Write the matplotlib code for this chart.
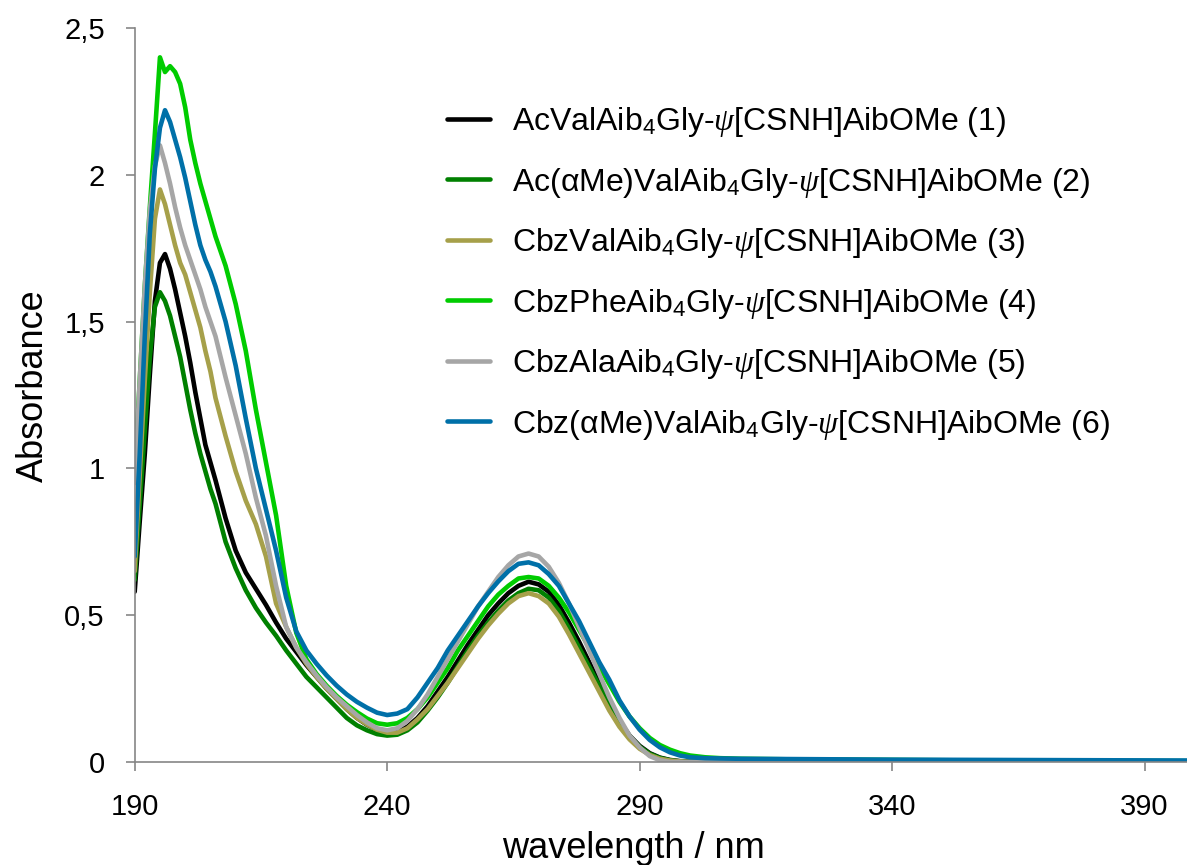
import numpy as np
import matplotlib
matplotlib.use('Agg')
import matplotlib.pyplot as plt

plt.rcParams['font.family'] = ['Liberation Sans', 'DejaVu Sans']
plt.rcParams['mathtext.fontset'] = 'custom'
plt.rcParams['mathtext.rm'] = 'Liberation Sans'
plt.rcParams['mathtext.it'] = 'Liberation Serif:italic'

# wavelength grid (nm) the curves were read at
wavelength = [190, 191, 192, 193, 194, 195, 196, 197, 198, 199, 200, 201, 202, 203, 204, 205, 206,
              208, 210, 212, 214, 216, 218, 220, 222,
              224, 226, 228, 230, 232, 234, 236, 238,
              240, 242, 244, 246, 248, 250, 252, 254, 256, 258, 260, 262, 264, 266, 268,
              270, 272, 274, 276, 278, 280, 282, 284, 286, 288, 290, 292, 294, 296, 298, 300,
              303, 306, 310, 320, 340, 360, 380, 400]

abs_1 = [0.58, 0.82, 1.05, 1.32, 1.57, 1.70, 1.73, 1.68, 1.61, 1.53, 1.45, 1.36, 1.26, 1.17, 1.08, 1.02, 0.96,
         0.83, 0.72, 0.645, 0.59, 0.535, 0.475, 0.42, 0.375,
         0.33, 0.29, 0.25, 0.215, 0.18, 0.15, 0.127, 0.11,
         0.10, 0.103, 0.12, 0.15, 0.19, 0.24, 0.29, 0.345, 0.40, 0.45, 0.50, 0.54, 0.575, 0.60, 0.614,
         0.605, 0.58, 0.535, 0.475, 0.41, 0.34, 0.27, 0.20, 0.14, 0.09, 0.055, 0.03, 0.015, 0.007, 0.003, 0.001,
         0.001, 0.001, 0.001, 0.001, 0.0, 0.0, 0.0, 0.0]

abs_2 = [0.62, 0.88, 1.13, 1.38, 1.55, 1.60, 1.57, 1.52, 1.45, 1.38, 1.29, 1.20, 1.12, 1.05, 0.99, 0.93, 0.88,
         0.75, 0.66, 0.585, 0.525, 0.475, 0.43, 0.38, 0.335,
         0.29, 0.255, 0.22, 0.185, 0.15, 0.125, 0.108, 0.095,
         0.09, 0.093, 0.108, 0.135, 0.175, 0.22, 0.27, 0.325, 0.38, 0.43, 0.475, 0.515, 0.55, 0.575, 0.59,
         0.585, 0.56, 0.515, 0.455, 0.39, 0.325, 0.26, 0.195, 0.135, 0.088, 0.052, 0.028, 0.014, 0.006, 0.002, 0.0,
         0.0, 0.0, 0.0, 0.0, 0.0, 0.0, 0.0, 0.0]

abs_3 = [0.65, 0.98, 1.30, 1.60, 1.85, 1.95, 1.90, 1.83, 1.76, 1.70, 1.66, 1.60, 1.54, 1.48, 1.40, 1.33, 1.24,
         1.11, 0.99, 0.89, 0.81, 0.70, 0.54, 0.46, 0.39,
         0.335, 0.29, 0.25, 0.215, 0.18, 0.15, 0.128, 0.11,
         0.10, 0.10, 0.115, 0.145, 0.18, 0.225, 0.27, 0.32, 0.37, 0.42, 0.465, 0.505, 0.54, 0.565, 0.575,
         0.565, 0.54, 0.495, 0.435, 0.37, 0.305, 0.24, 0.175, 0.12, 0.077, 0.045, 0.024, 0.011, 0.005, 0.002, 0.0,
         0.0, 0.0, 0.0, 0.0, 0.0, 0.0, 0.0, 0.0]

abs_4 = [0.98, 1.30, 1.62, 1.89, 2.14, 2.40, 2.35, 2.37, 2.35, 2.31, 2.23, 2.12, 2.04, 1.97, 1.91, 1.85, 1.79,
         1.69, 1.56, 1.40, 1.20, 1.02, 0.84, 0.60, 0.44,
         0.35, 0.30, 0.26, 0.225, 0.195, 0.17, 0.148, 0.132,
         0.127, 0.132, 0.15, 0.18, 0.22, 0.27, 0.32, 0.38, 0.43, 0.48, 0.53, 0.57, 0.60, 0.625, 0.63,
         0.625, 0.60, 0.56, 0.51, 0.45, 0.39, 0.325, 0.265, 0.205, 0.155, 0.115, 0.082, 0.058, 0.042, 0.03, 0.022,
         0.016, 0.013, 0.011, 0.009, 0.007, 0.005, 0.004, 0.003]

abs_5 = [0.95, 1.30, 1.62, 1.88, 2.03, 2.10, 2.04, 1.97, 1.89, 1.82, 1.76, 1.71, 1.66, 1.61, 1.55, 1.50, 1.45,
         1.31, 1.18, 1.05, 0.90, 0.77, 0.60, 0.46, 0.39,
         0.34, 0.295, 0.255, 0.22, 0.19, 0.16, 0.135, 0.115,
         0.108, 0.115, 0.14, 0.18, 0.23, 0.29, 0.35, 0.41, 0.47, 0.53, 0.58, 0.63, 0.67, 0.70, 0.71,
         0.70, 0.665, 0.61, 0.54, 0.46, 0.38, 0.30, 0.22, 0.15, 0.09, 0.05, 0.02, 0.006, 0.0, 0.0, 0.0,
         0.0, 0.0, 0.0, 0.0, 0.0, 0.0, 0.0, 0.0]

abs_6 = [0.70, 1.05, 1.45, 1.80, 2.02, 2.16, 2.22, 2.18, 2.12, 2.06, 1.99, 1.91, 1.83, 1.76, 1.71, 1.67, 1.62,
         1.50, 1.35, 1.17, 1.00, 0.86, 0.72, 0.56, 0.445,
         0.38, 0.335, 0.295, 0.26, 0.23, 0.205, 0.185, 0.168,
         0.16, 0.165, 0.18, 0.22, 0.27, 0.32, 0.38, 0.43, 0.48, 0.53, 0.575, 0.615, 0.65, 0.675, 0.68,
         0.67, 0.64, 0.60, 0.54, 0.48, 0.41, 0.34, 0.28, 0.21, 0.155, 0.11, 0.075, 0.05, 0.033, 0.022, 0.016,
         0.013, 0.012, 0.011, 0.010, 0.008, 0.007, 0.006, 0.005]

labels = [r'AcValAib$_4$Gly-$\mathit{\psi}$[CSNH]AibOMe (1)',
          r'Ac(αMe)ValAib$_4$Gly-$\mathit{\psi}$[CSNH]AibOMe (2)',
          r'CbzValAib$_4$Gly-$\mathit{\psi}$[CSNH]AibOMe (3)',
          r'CbzPheAib$_4$Gly-$\mathit{\psi}$[CSNH]AibOMe (4)',
          r'CbzAlaAib$_4$Gly-$\mathit{\psi}$[CSNH]AibOMe (5)',
          r'Cbz(αMe)ValAib$_4$Gly-$\mathit{\psi}$[CSNH]AibOMe (6)']
colors = ['#000000', '#008000', '#A6A04A', '#00CC00', '#A6A6A6', '#0070A8']
series = [abs_1, abs_2, abs_3, abs_4, abs_5, abs_6]

y_ticks = [0, 0.5, 1, 1.5, 2, 2.5]
y_ticklabels = ['0', '0,5', '1', '1,5', '2', '2,5']
x_ticks = [190, 240, 290, 340, 390]

W, H = 1187, 865
fig = plt.figure(figsize=(W / 100, H / 100), dpi=100)
# plot area in pixels: left 134.7, right 1187, top 28, bottom 762
ax = fig.add_axes([134.7 / W, (H - 762) / H, (W - 134.7) / W, (762 - 28) / H])

lines = []
for ys, c, lab in zip(series, colors, labels):
    ln, = ax.plot(wavelength, ys, color=c, lw=3.3, label=lab,
                  solid_joinstyle='round', solid_capstyle='round')
    lines.append(ln)

ax.set_xlim(190, 398.4)
ax.set_ylim(0, 2.5)
ax.set_xticks(x_ticks)
ax.set_yticks(y_ticks)
ax.set_yticklabels(y_ticklabels)

grey = '#868686'
for side in ('top', 'right'):
    ax.spines[side].set_visible(False)
for side in ('left', 'bottom'):
    ax.spines[side].set_color(grey)
    ax.spines[side].set_linewidth(1.2)
ax.tick_params(axis='both', direction='out', length=6.5, width=1.2, color=grey,
               labelsize=21, labelcolor='black')
ax.tick_params(axis='x', pad=16)
ax.tick_params(axis='y', pad=15)

ax.set_xlabel('wavelength / nm', fontsize=26)
ax.xaxis.set_label_coords((633 - 134.7) / (W - 134.7), (762 - 849) / 734)
ax.xaxis.label.set_va('center')
ax.set_ylabel('Absorbance', fontsize=26)
ax.yaxis.set_label_coords((33 - 134.7) / (W - 134.7), (762 - 386) / 734)
ax.yaxis.label.set_va('center')

leg = ax.legend(handles=lines, loc='upper left', bbox_to_anchor=(447 / W, 1 - 105 / H),
                bbox_transform=fig.transFigure, frameon=False, fontsize=23,
                handlelength=1.35, handletextpad=0.69, labelspacing=0.83,
                borderpad=0, borderaxespad=0)

fig.savefig('out.png', dpi=100)
